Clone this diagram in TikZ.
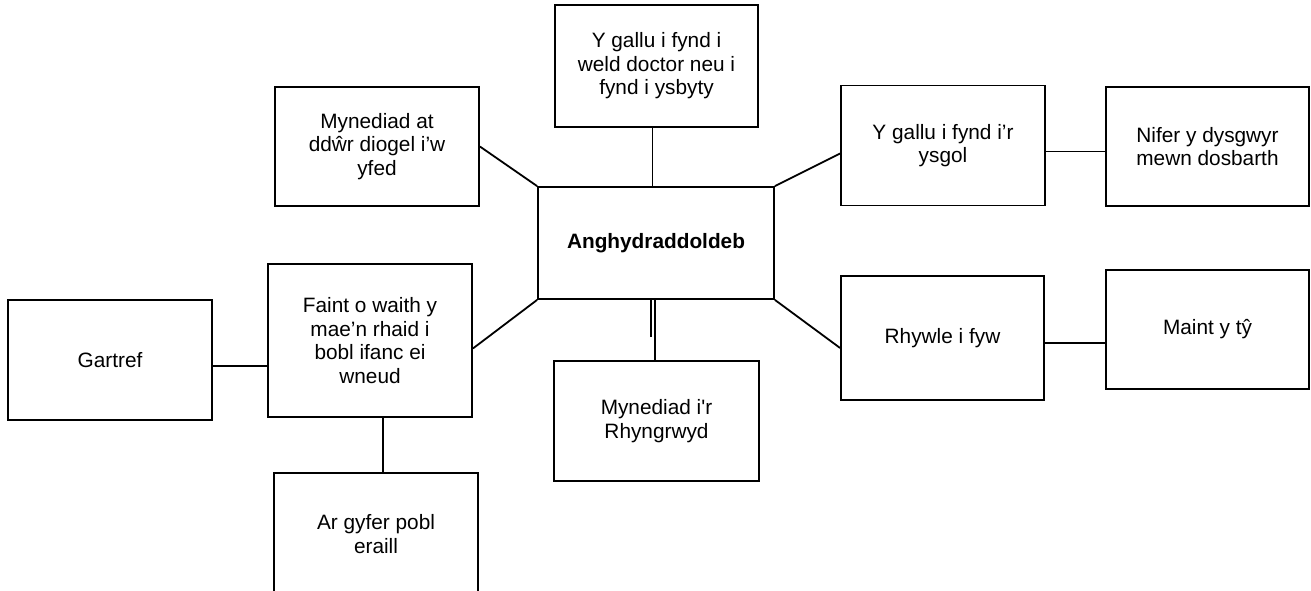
\documentclass[tikz,border=0pt]{standalone}
\usepackage{fontspec}
\setmainfont{Liberation Sans}
\begin{document}
\begin{tikzpicture}[x=1pt,y=-1pt,
  box/.style={draw=black, line width=1.8pt, fill=white, inner sep=0pt, align=center,
    font=\fontsize{20.8}{23.5}\selectfont},
  link/.style={draw=black, line width=1.8pt}]
\useasboundingbox (0,0) rectangle (1311,590);
\fill[white] (0,0) rectangle (1311,590);
\clip (0,0) rectangle (1311,590);
\node[box, minimum width=203pt, minimum height=122pt] (top) at (656.5,66) {Y gallu i fynd i\\weld doctor neu i\\fynd i ysbyty};
\node[box, minimum width=204pt, minimum height=119pt] (dwr) at (377,146.5) {Mynediad at\\ddŵr diogel i’w\\yfed};
\node[box, minimum width=236pt, minimum height=112pt] (center) at (656,243) {\textbf{Anghydraddoldeb}};
\node[box, minimum width=204pt, minimum height=120pt] (ysgol) at (943,145.5) {Y gallu i fynd i’r\\ysgol};
\node[box, minimum width=203pt, minimum height=119pt] (nifer) at (1207.5,146.5) {Nifer y dysgwyr\\mewn dosbarth};
\node[box, minimum width=204pt, minimum height=153pt] (faint) at (370,340.5) {Faint o waith y\\mae’n rhaid i\\bobl ifanc ei\\wneud};
\node[box, minimum width=204pt, minimum height=120pt] (gartref) at (110,360) {Gartref};
\node[box, minimum width=203pt, minimum height=124pt] (rhywle) at (942.5,338) {Rhywle i fyw};
\node[box, minimum width=203pt, minimum height=119pt] (maint) at (1207.5,329.5) {Maint y tŷ};
\node[box, minimum width=205pt, minimum height=120pt] (rhyngrwyd) at (656.5,421) {Mynediad i\textquotesingle r\\Rhyngrwyd};
\node[box, minimum width=204pt, minimum height=122pt] (argyfer) at (376,534) {Ar gyfer pobl\\eraill};
% connectors
\draw[link] ([xshift=-4pt]top.south) -- ([xshift=-4pt]top.south |- center.north);
\draw[link] (dwr.east) -- (center.north west);
\draw[link] ([yshift=-8pt]ysgol.west) -- (center.north east);
\draw[link] ([yshift=-6pt]ysgol.east) -- ([yshift=-6pt]ysgol.east -| nifer.west);
\draw[link] ([yshift=-8pt]faint.east) -- (center.south west);
\draw[link] ([yshift=-6pt]gartref.east) -- ([yshift=-6pt]gartref.east -| faint.west);
\draw[link] ([xshift=13pt]faint.south) -- ([xshift=13pt]faint.south |- argyfer.north);
\coordinate (stub) at ([xshift=-5pt,yshift=-37pt]center.south);
\draw[link] ([xshift=-5pt]center.south) -- (stub);
\draw[link] ([xshift=-1pt]center.south) -- ([xshift=-1pt]center.south |- rhyngrwyd.north);
\draw[link] (center.south east) -- ([yshift=-10pt]rhywle.west);
\draw[link] ([yshift=-5pt]rhywle.east) -- ([yshift=-5pt]rhywle.east -| maint.west);
\end{tikzpicture}
\end{document}
